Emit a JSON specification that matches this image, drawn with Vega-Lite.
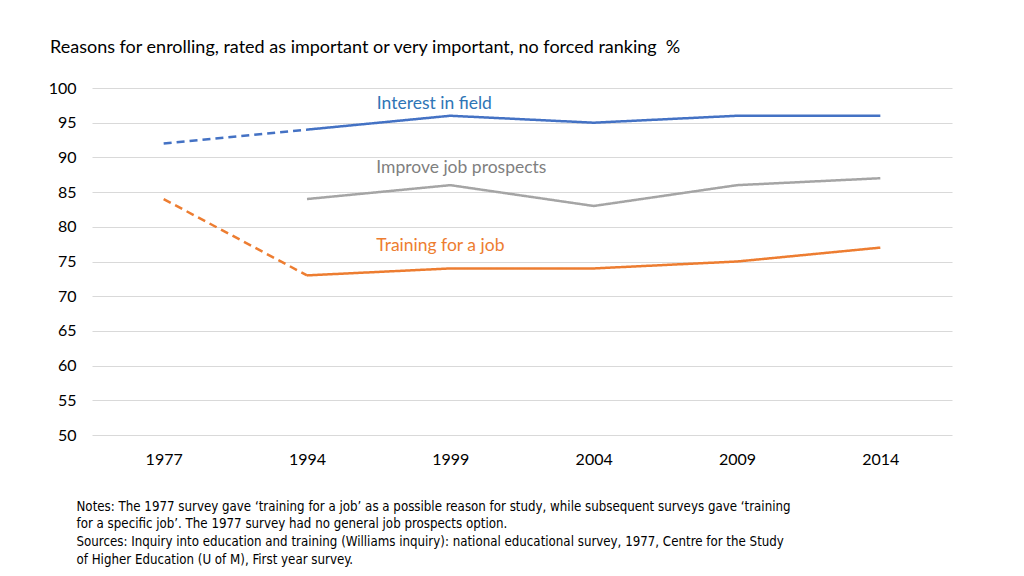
{
  "$schema": "https://vega.github.io/schema/vega-lite/v6.json",
  "autosize": {"type": "none"},
  "width": 860,
  "height": 347,
  "padding": {"left": 92, "top": 88, "right": 72, "bottom": 141},
  "background": "white",
  "config": {
    "view": {"stroke": null},
    "font": "Lato",
    "axis": {"labelFont": "Lato", "titleFont": "Lato"}
  },
  "title": {
    "text": "Reasons for enrolling, rated as important or very important, no forced ranking \u00a0%",
    "anchor": "start",
    "frame": "group",
    "dx": -42,
    "offset": 23,
    "fontSize": 18,
    "fontWeight": "normal",
    "color": "#000000",
    "font": "Lato"
  },
  "datasets": {
    "series": [
      {"series": "Interest in field", "part": "est", "year": "1977", "value": 92},
      {"series": "Interest in field", "part": "est", "year": "1994", "value": 94},
      {"series": "Interest in field", "part": "main", "year": "1994", "value": 94},
      {"series": "Interest in field", "part": "main", "year": "1999", "value": 96},
      {"series": "Interest in field", "part": "main", "year": "2004", "value": 95},
      {"series": "Interest in field", "part": "main", "year": "2009", "value": 96},
      {"series": "Interest in field", "part": "main", "year": "2014", "value": 96},
      {"series": "Improve job prospects", "part": "main", "year": "1994", "value": 84},
      {"series": "Improve job prospects", "part": "main", "year": "1999", "value": 86},
      {"series": "Improve job prospects", "part": "main", "year": "2004", "value": 83},
      {"series": "Improve job prospects", "part": "main", "year": "2009", "value": 86},
      {"series": "Improve job prospects", "part": "main", "year": "2014", "value": 87},
      {"series": "Training for a job", "part": "est", "year": "1977", "value": 84},
      {"series": "Training for a job", "part": "est", "year": "1994", "value": 73},
      {"series": "Training for a job", "part": "main", "year": "1994", "value": 73},
      {"series": "Training for a job", "part": "main", "year": "1999", "value": 74},
      {"series": "Training for a job", "part": "main", "year": "2004", "value": 74},
      {"series": "Training for a job", "part": "main", "year": "2009", "value": 75},
      {"series": "Training for a job", "part": "main", "year": "2014", "value": 77}
    ],
    "labels": [
      {"series": "Interest in field", "year": "1999", "value": 97.7},
      {"series": "Improve job prospects", "year": "1999", "value": 88.5},
      {"series": "Training for a job", "year": "1999", "value": 77.2}
    ]
  },
  "encoding": {
    "x": {
      "field": "year", "type": "ordinal",
      "scale": {"type": "point", "padding": 0.5},
      "axis": {
        "labelAngle": 0, "labelFontSize": 16, "labelColor": "#000000",
        "labelPadding": 16, "ticks": false, "domain": false, "grid": false,
        "title": [
          "Notes: The 1977 survey gave \u2018training for a job\u2019 as a possible reason for study, while subsequent surveys gave \u2018training",
          "for a specific job\u2019. The 1977 survey had no general job prospects option.",
          "Sources: Inquiry into education and training (Williams inquiry): national educational survey, 1977, Centre for the Study",
          "of Higher Education (U of M), First year survey."
        ],
        "titleFont": "DejaVu Sans Condensed, Lato",
        "titleFontSize": 13.2,
        "titleFontWeight": "normal",
        "titleColor": "#000000",
        "titleAnchor": "start",
        "titleAlign": "left",
        "titleBaseline": "top",
        "titleLineHeight": 17.8,
        "titleX": -16,
        "titleY": 65
      }
    },
    "y": {
      "field": "value", "type": "quantitative",
      "scale": {"domain": [50, 100], "nice": false, "zero": false},
      "axis": {
        "values": [50, 55, 60, 65, 70, 75, 80, 85, 90, 95, 100],
        "labelFontSize": 16, "labelColor": "#000000", "labelPadding": 16,
        "labelOverlap": false,
        "ticks": false, "domain": false, "grid": true,
        "gridColor": "#d9d9d9", "gridWidth": 1, "title": null
      }
    }
  },
  "layer": [
    {
      "data": {"name": "series"},
      "mark": {"type": "line", "strokeWidth": 2.5},
      "encoding": {
        "color": {
          "field": "series", "type": "nominal",
          "scale": {
            "domain": ["Interest in field", "Improve job prospects", "Training for a job"],
            "range": ["#4472C4", "#A5A5A5", "#ED7D31"]
          },
          "legend": null
        },
        "strokeDash": {
          "field": "part", "type": "nominal",
          "scale": {"domain": ["main", "est"], "range": [[1, 0], [8, 5]]},
          "legend": null
        },
        "detail": {"field": "series"}
      }
    },
    {
      "data": {"name": "labels"},
      "transform": [{"filter": "datum.series == 'Interest in field'"}],
      "mark": {"type": "text", "align": "center", "baseline": "middle", "fontSize": 17.5, "dx": -16, "color": "#2E75B6"},
      "encoding": {"text": {"field": "series"}}
    },
    {
      "data": {"name": "labels"},
      "transform": [{"filter": "datum.series == 'Improve job prospects'"}],
      "mark": {"type": "text", "align": "center", "baseline": "middle", "fontSize": 17.5, "dx": 11, "color": "#7F7F7F"},
      "encoding": {"text": {"field": "series"}}
    },
    {
      "data": {"name": "labels"},
      "transform": [{"filter": "datum.series == 'Training for a job'"}],
      "mark": {"type": "text", "align": "center", "baseline": "middle", "fontSize": 17.5, "dx": -10, "color": "#ED7D31"},
      "encoding": {"text": {"field": "series"}}
    }
  ]
}
